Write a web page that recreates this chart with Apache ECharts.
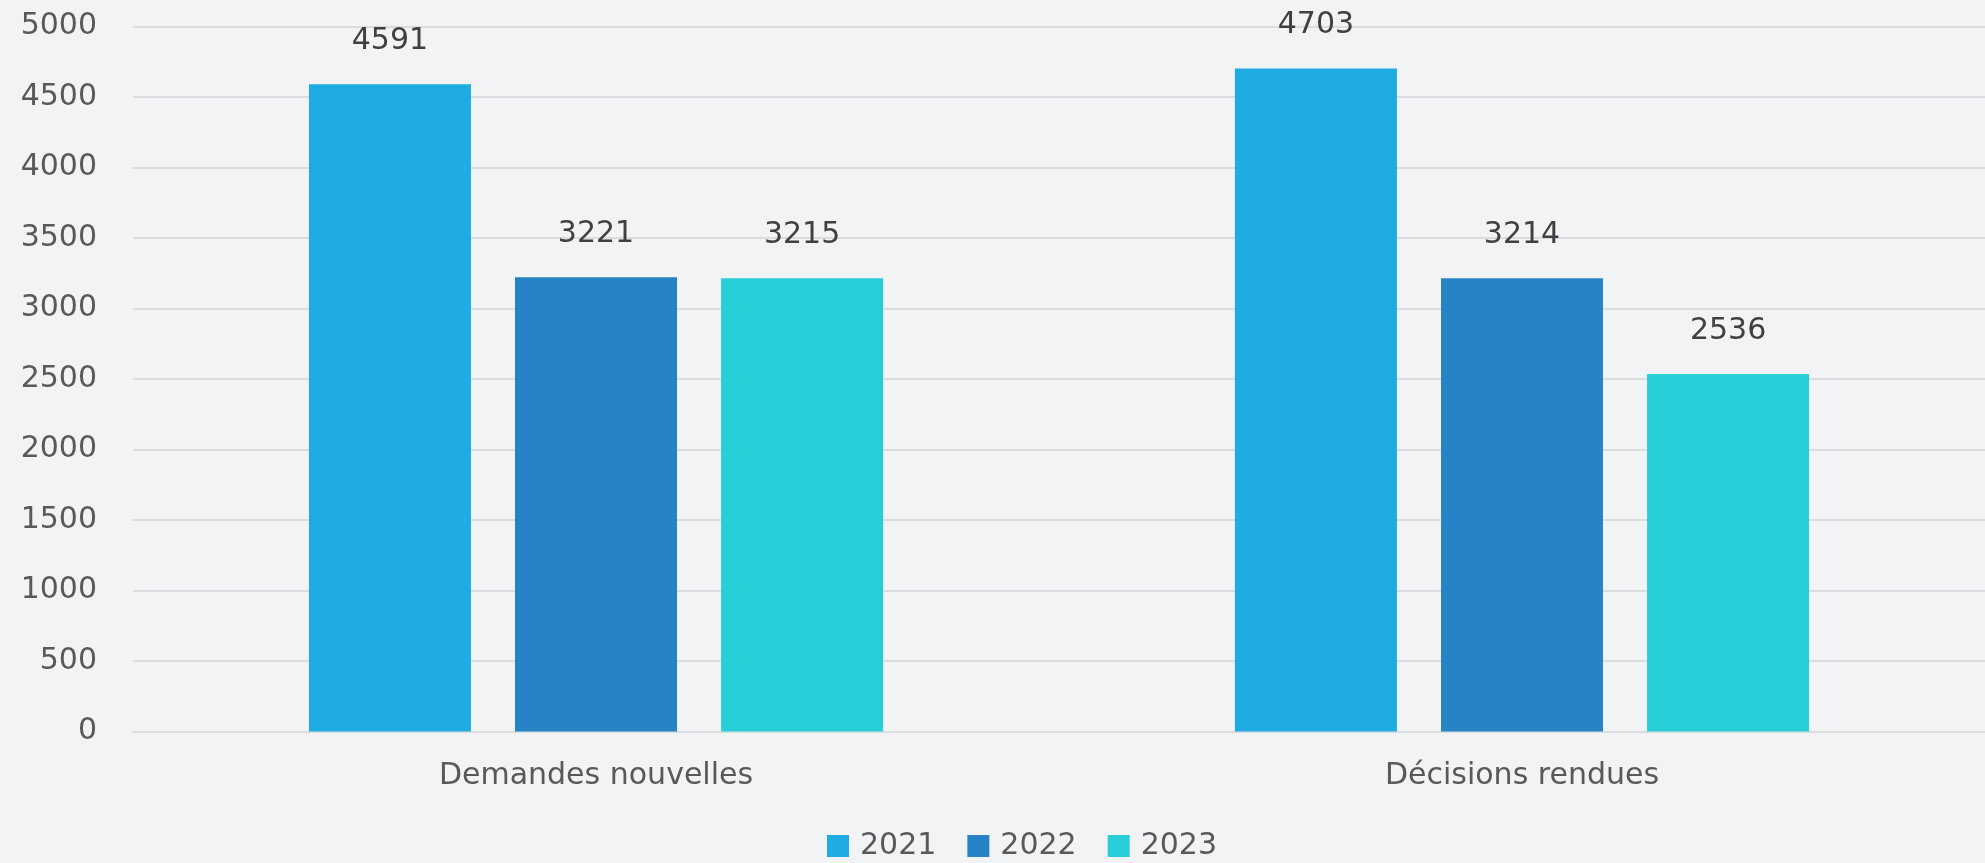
<!DOCTYPE html>
<html>
<head>
<meta charset="utf-8">
<script src="https://cdn.jsdelivr.net/npm/echarts@6/dist/echarts.min.js"></script>
<style>
  html, body { margin: 0; padding: 0; background: #f2f3f5; }
  #chart { width: 1985px; height: 863px; }
</style>
</head>
<body>
<div id="chart"></div>
<script>
const categories = ['Demandes nouvelles', 'Décisions rendues'];
const years = ['2021', '2022', '2023'];
const values2021 = [4591, 4703];
const values2022 = [3221, 3214];
const values2023 = [3215, 2536];
const colors = ['#1eace3', '#2683c6', '#27ced7'];

const font = 'DejaVu Sans, Verdana, sans-serif';
const seriesValues = [values2021, values2022, values2023];

const chart = echarts.init(document.getElementById('chart'));
chart.setOption({
  backgroundColor: '#f2f3f5',
  animation: false,
  color: colors,
  // plot area runs slightly past the right edge of the canvas
  grid: { left: 133, width: 1860, top: 26.5, bottom: 131.5, containLabel: false },
  legend: {
    bottom: -3,
    left: 822,
    itemWidth: 22,
    itemHeight: 22,
    itemGap: 31,
    icon: 'rect',
    textStyle: { fontFamily: font, fontSize: 30, color: '#595959', padding: [0, 0, 0, 6] },
    data: years
  },
  xAxis: {
    type: 'category',
    data: categories,
    axisLine: { show: true, lineStyle: { color: '#dadcdf', width: 2 } },
    axisTick: { show: false },
    axisLabel: { fontFamily: font, fontSize: 30, color: '#595959', margin: 30 }
  },
  yAxis: {
    type: 'value',
    min: 0,
    max: 5000,
    interval: 500,
    axisLine: { show: false },
    axisTick: { show: false },
    splitLine: { lineStyle: { color: '#dadcdf', width: 2 } },
    axisLabel: {
      fontFamily: font, fontSize: 30, color: '#595959', margin: 36,
      formatter: v => String(v)
    }
  },
  series: years.map((y, i) => ({
    name: y,
    type: 'bar',
    data: seriesValues[i],
    barWidth: 162,
    barGap: '27.2%',
    barCategoryGap: '38%',
    itemStyle: { color: colors[i] },
    label: {
      show: true,
      position: 'top',
      distance: 28,
      fontFamily: font,
      fontSize: 30,
      color: '#404040'
    }
  }))
});
</script>
</body>
</html>
